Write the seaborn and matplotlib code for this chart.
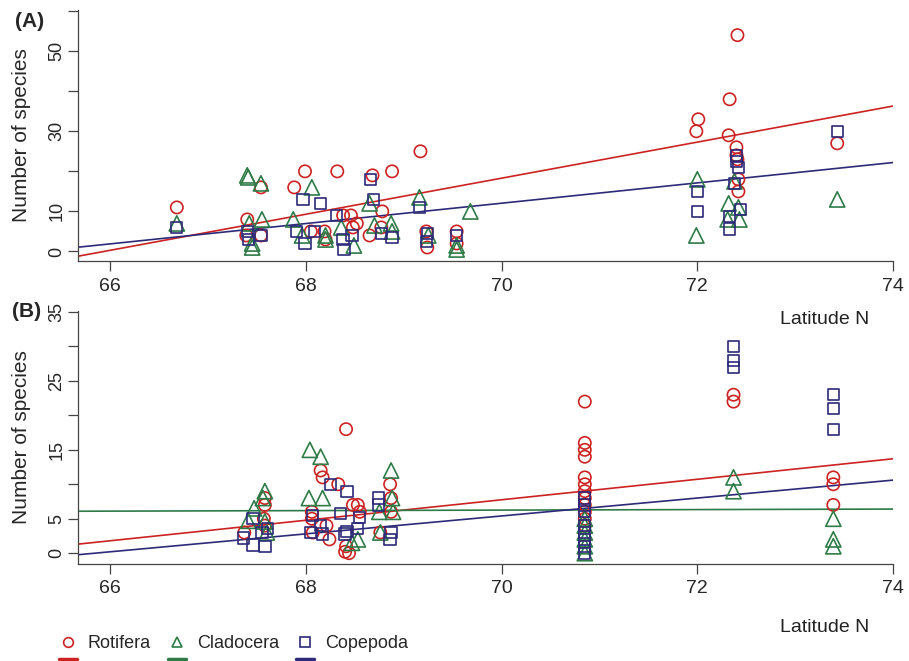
import numpy as np
import pandas as pd
import matplotlib
matplotlib.use("Agg")
import matplotlib.pyplot as plt
from matplotlib.lines import Line2D
import seaborn as sns

# panel A data (latitude, number of species)
rot_a_lat = [66.68, 67.40, 67.39, 67.54, 67.54, 67.88, 67.99, 68.32, 68.05, 68.19, 68.20,
             68.38, 68.46, 68.52, 68.48, 68.65, 68.68, 68.78, 68.77, 68.88, 69.17, 69.23,
             69.24, 69.54, 69.54, 72.41, 72.33, 72.01, 71.99, 72.32, 72.40, 72.40, 72.41,
             72.42, 72.42, 73.43]
rot_a_n = [11, 8, 4, 16, 4, 16, 20, 20, 5, 5, 3,
           9, 9, 7, 6, 4, 19, 10, 6, 20, 25, 5,
           1, 5, 2, 54, 38, 33, 30, 29, 26, 24, 23,
           18, 15, 27]

cla_a_lat = [66.68, 67.40, 67.41, 67.54, 67.42, 67.55, 67.45, 67.45, 67.87, 67.96, 68.06,
             68.20, 68.20, 68.36, 68.49, 68.65, 68.70, 68.87, 68.88, 69.16, 69.25, 69.54,
             69.54, 69.68, 72.00, 71.99, 72.38, 72.32, 72.31, 72.42, 72.43, 73.43]
cla_a_n = [7, 19, 18.5, 17, 7, 8, 2, 1, 8, 4, 16,
           4, 3, 6, 1.5, 12, 6.5, 7, 5, 13.5, 4, 1.5,
           0.5, 10, 18, 4, 17.5, 12, 8, 11, 8, 13]

cop_a_lat = [66.68, 67.40, 67.41, 67.54, 67.97, 67.90, 67.99, 68.15, 68.09, 68.31, 68.38,
             68.39, 68.47, 68.66, 68.69, 68.77, 68.88, 69.16, 69.23, 69.24, 69.54, 72.00,
             72.00, 72.40, 72.40, 72.42, 72.38, 72.44, 72.33, 72.33, 73.43]
cop_a_n = [6, 5, 3, 4, 13, 5, 2, 12, 5, 9, 3,
           0.5, 4, 18, 13, 4.5, 3.5, 11, 2.5, 4.5, 4, 15,
           10, 24, 22.5, 21, 17, 10.5, 8.7, 5.6, 30]

# panel B data
rot_b_lat = [67.37, 67.58, 67.58, 67.57, 67.58, 68.06, 68.06, 68.07, 68.15, 68.17, 68.21,
             68.24, 68.33, 68.41, 68.48, 68.53, 68.55, 68.40, 68.44, 68.41, 68.76, 68.86,
             68.87, 68.87] + [70.85] * 12 + [72.37, 72.37, 73.39, 73.39, 73.39]
rot_b_n = [3, 8, 7, 5, 4, 6, 5, 3, 12, 11, 4,
           2, 10, 18, 7, 7, 6, 0.2, 0, 1, 3, 10,
           8, 6, 22, 16, 15, 14, 11, 10, 9, 8, 7, 6, 5, 4, 23, 22, 11, 10, 7]

cla_b_lat = [67.41, 67.47, 67.56, 67.58, 67.58, 67.60, 68.04, 68.15, 68.03, 68.17, 68.53,
             68.47, 68.75, 68.76, 68.87, 68.88, 68.89] + [70.85] * 6 + [72.37, 72.37,
             73.39, 73.39, 73.39]
cla_b_n = [4.7, 6.5, 8, 9, 4.6, 3, 15, 14, 8, 8, 2,
           1.5, 6, 3, 12, 8, 6, 5, 4, 3, 2, 1, 0, 11, 9, 5, 2, 1]

cop_b_lat = [67.36, 67.46, 67.46, 67.55, 67.58, 67.61, 68.05, 68.07, 68.15, 68.17, 68.25,
             68.35, 68.40, 68.42, 68.42, 68.53, 68.55, 68.74, 68.74, 68.86, 68.87] + \
            [70.85] * 8 + [72.37, 72.37, 72.37, 73.39, 73.39, 73.39]
cop_b_n = [2.2, 5, 1.2, 3, 1, 3.6, 3, 5.5, 4, 2.8, 10,
           5.8, 2.8, 9, 3.1, 3.6, 5.2, 8, 7, 2, 3,
           8, 7, 6, 4, 3, 2, 1, 0, 30, 28, 27, 23, 21, 18]

# fitted regression lines: value at latitude 66 and 74
fit_lat = [66, 74]
fit_a = {"Rotifera": [0.3, 36.3], "Copepoda": [1.9, 22.2]}
fit_b = {"Rotifera": [1.8, 13.7], "Cladocera": [6.1, 6.4], "Copepoda": [0.2, 10.6]}

groups = ["Rotifera", "Cladocera", "Copepoda"]
colors = {"Rotifera": "#cc2222", "Cladocera": "#2e7b48", "Copepoda": "#2d2a78"}
markers = {"Rotifera": "o", "Cladocera": "^", "Copepoda": "s"}
sizes = {"Rotifera": 78, "Cladocera": 120, "Copepoda": 66}


def long_df(parts):
    frames = []
    for g, (lat, n) in zip(groups, parts):
        frames.append(pd.DataFrame({"lat": lat, "n": n, "group": g}))
    return pd.concat(frames, ignore_index=True)


df_a = long_df([(rot_a_lat, rot_a_n), (cla_a_lat, cla_a_n), (cop_a_lat, cop_a_n)])
df_b = long_df([(rot_b_lat, rot_b_n), (cla_b_lat, cla_b_n), (cop_b_lat, cop_b_n)])

sns.set_style("ticks")
plt.rcParams["font.family"] = ["Liberation Sans", "DejaVu Sans"]

fig = plt.figure(figsize=(9.09, 6.61), dpi=100)
ax_a = fig.add_axes([0.0858, 0.605, 0.8966, 0.380])
ax_b = fig.add_axes([0.0858, 0.147, 0.8966, 0.383])


def draw_panel(ax, df, fits, ylim, yticks, ylabels):
    for g in groups:
        d = df[df["group"] == g]
        sns.scatterplot(x=d["lat"], y=d["n"], ax=ax, marker=markers[g], s=sizes[g],
                        color=colors[g], facecolors="none", edgecolor=colors[g],
                        linewidth=1.2, zorder=3)
    for g, vals in fits.items():
        ax.axline((fit_lat[0], vals[0]), (fit_lat[1], vals[1]), color=colors[g], lw=1.2, zorder=2)
    ax.set_xlim(65.67, 74.0)
    ax.set_ylim(*ylim)
    ax.set_xticks([66, 68, 70, 72, 74])
    ax.set_yticks(yticks)
    ax.set_yticklabels(ylabels)
    ax.tick_params(axis="both", labelsize=14, length=7, width=0.9, color="#444444")
    ax.tick_params(axis="y", labelsize=13, pad=2)
    ax.tick_params(axis="x", pad=5)
    for lab in ax.get_yticklabels():
        lab.set_rotation(90)
        lab.set_va("center")
    ax.set_xlabel("")
    ax.set_ylabel("Number of species", fontsize=15)
    ax.yaxis.set_label_coords(-0.058, 0.5)
    for sp in ["left", "bottom"]:
        ax.spines[sp].set_linewidth(0.9)
        ax.spines[sp].set_color("#444444")
    sns.despine(ax=ax)


draw_panel(ax_a, df_a, fit_a, (-2.4, 60.3), range(0, 61, 10),
           ["0", "10", "", "30", "", "50", ""])
draw_panel(ax_b, df_b, fit_b, (-1.55, 35.2), range(0, 36, 5),
           ["0", "5", "", "15", "", "25", "", "35"])

fig.text(0.017, 0.967, "(A)", fontsize=15, fontweight="bold", va="center")
fig.text(0.013, 0.528, "(B)", fontsize=15, fontweight="bold", va="center")
fig.text(0.907, 0.516, "Latitude N", fontsize=14, ha="center", va="center", color="#222222")
fig.text(0.907, 0.051, "Latitude N", fontsize=14, ha="center", va="center", color="#222222")

# legend: markers in the first row, fitted lines in the cut-off second row
handles, labels = [], []
for g in groups:
    handles.append(Line2D([], [], ls="none", marker=markers[g], mfc="none",
                          mec=colors[g], mew=1.2, ms=7))
    labels.append(g)
    handles.append(Line2D([], [], color=colors[g], lw=2.5))
    labels.append(" ")
fig.legend(handles, labels, ncol=3, loc="upper left", bbox_to_anchor=(0.055, 0.053),
           frameon=False, fontsize=13, handlelength=1.0, handletextpad=0.6,
           columnspacing=0.95, labelspacing=0.0, borderpad=0.0)

fig.savefig("out.png", dpi=100)
